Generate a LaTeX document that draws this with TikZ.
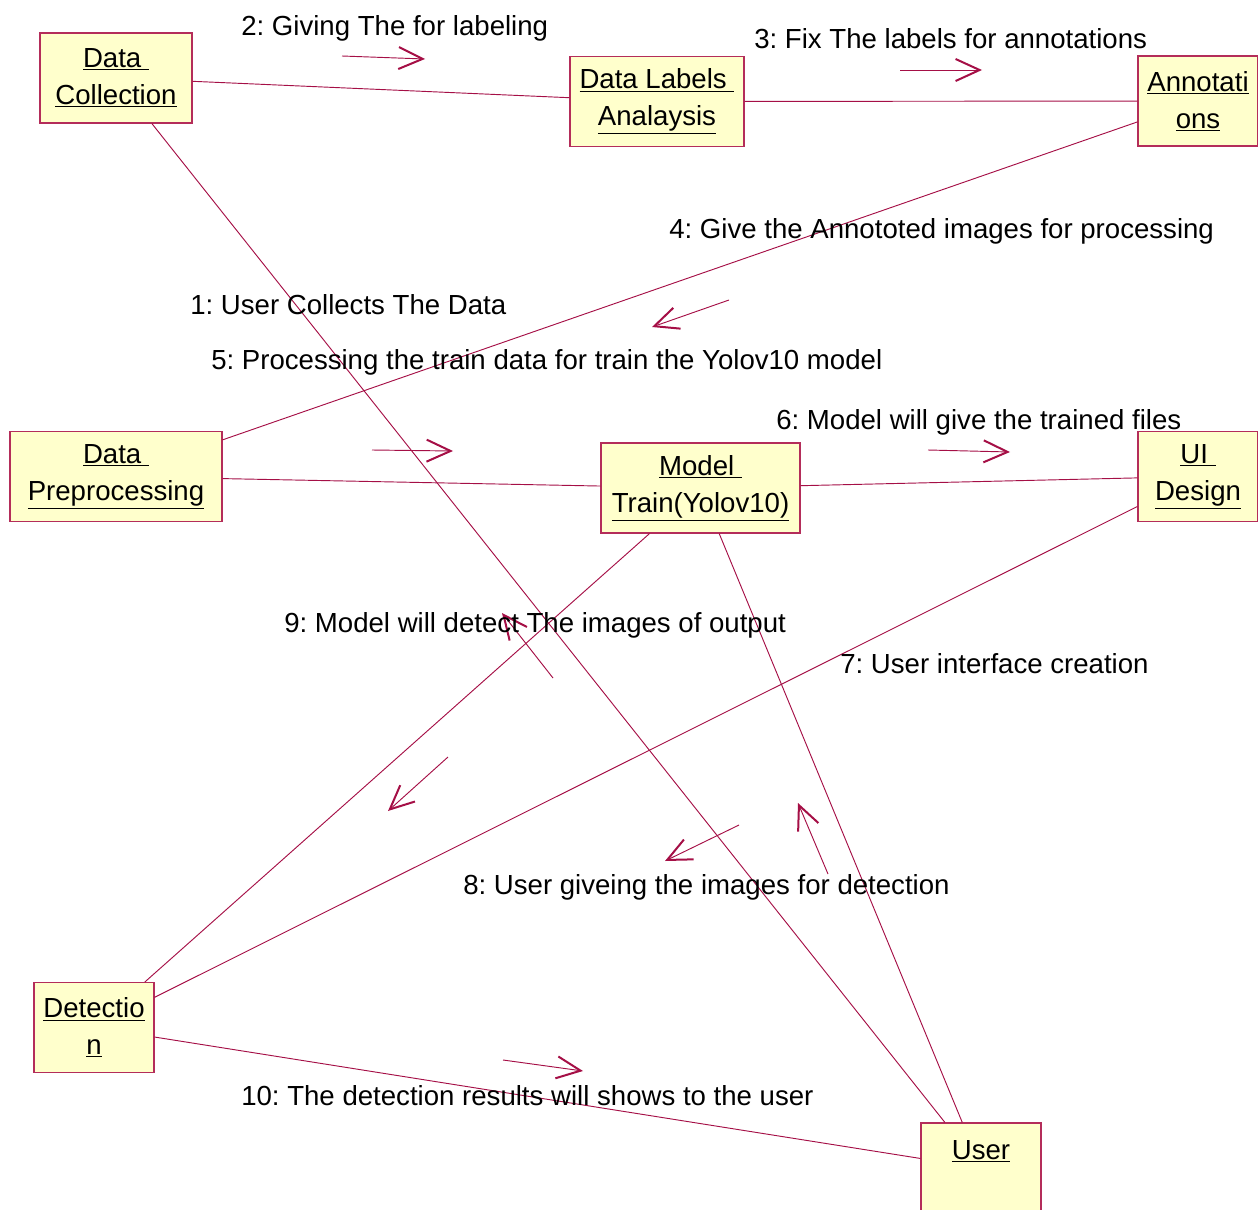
\documentclass[tikz,border=0pt]{standalone}
\usepackage{fontspec}
\setmainfont{Liberation Sans}
\usetikzlibrary{arrows.meta}
\definecolor{linkred}{RGB}{165,15,70}
\definecolor{boxfill}{RGB}{255,255,204}
\definecolor{boxedge}{RGB}{180,45,90}
\newcommand{\ul}[1]{\underline{#1}}
\frenchspacing
\begin{document}
\begin{tikzpicture}[x=0.75pt,y=-0.75pt,
  obj/.style={draw=boxedge, fill=boxfill, line width=0.8pt, minimum height=67.5pt,
    inner sep=0pt, align=center, font=\fontsize{20.7}{27.75}\selectfont},
  link/.style={draw=linkred, line width=0.7pt},
  msg/.style={draw=linkred, line width=0.7pt,
    -{Straight Barb[length=18pt, width=16.5pt, line width=1.5pt]}},
  lbl/.style={anchor=base west, inner sep=0pt, font=\fontsize{20.7}{24}\selectfont}]
\useasboundingbox (0,0) rectangle (1258,1210);

% objects
\node[obj, minimum width=114pt]   (dc)   at (116,78)    {\ul{Data\ }\\\ul{Collection}};
\node[obj, minimum width=130.5pt] (dla)  at (657,101.5) {\ul{Data Labels\ }\\\ul{Analaysis}};
\node[obj, minimum width=90pt]    (ann)  at (1198,101)  {\ul{Annotati}\\\ul{ons}};
\node[obj, minimum width=159pt]   (dp)   at (116,476.5) {\ul{Data\ }\\\ul{Preprocessing}};
\node[obj, minimum width=149.25pt](mt)   at (700.5,488) {\ul{Model\ }\\\ul{Train(Yolov10)}};
\node[obj, minimum width=90pt]    (ui)   at (1198,476.5){\ul{UI\ }\\\ul{Design}};
\node[obj, minimum width=90pt]    (det)  at (94,1027.5) {\ul{Detectio}\\\ul{n}};
\node[obj, minimum width=90pt]    (user) at (981,1168)  {\ul{User}\\\mbox{}};

% links
\draw[link] (dc) -- (dla);
\draw[link] (dla) -- (ann);
\draw[link] (ann) -- (dp);
\draw[link] (dp) -- (mt);
\draw[link] (mt) -- (ui);
\draw[link] (dc) -- (user);
\draw[link] (mt) -- (det);
\draw[link] (mt) -- (user);
\draw[link] (ui) -- (det);
\draw[link] (det) -- (user);

% message arrows
\coordinate (m1a) at (553,678);  \coordinate (m1b) at (502,613);
\coordinate (m2a) at (342,56);   \coordinate (m2b) at (425,59);
\coordinate (m3a) at (900,70);   \coordinate (m3b) at (982,70);
\coordinate (m4a) at (729,300);  \coordinate (m4b) at (652,327);
\coordinate (m5a) at (372,450);  \coordinate (m5b) at (453,451);
\coordinate (m6a) at (928,450);  \coordinate (m6b) at (1010,452);
\coordinate (m7a) at (739,825);  \coordinate (m7b) at (665,861);
\coordinate (m8a) at (828,874);  \coordinate (m8b) at (798,803);
\coordinate (m9a) at (448,757);  \coordinate (m9b) at (388,811);
\coordinate (m10a) at (503,1060); \coordinate (m10b) at (583,1071);
\foreach \m in {1,...,10} \draw[msg] (m\m a) -- (m\m b);

% message labels
\node[lbl] (t2)  at (241,36)   {2: Giving The for labeling};
\node[lbl] (t3)  at (754,48)   {3: Fix The labels for annotations};
\node[lbl] (t4)  at (669,238)  {4: Give the Annototed images for processing};
\node[lbl] (t1)  at (190,314)  {1: User Collects The Data};
\node[lbl] (t5)  at (211,369)  {5: Processing the train data for train the Yolov10 model};
\node[lbl] (t6)  at (776,429)  {6: Model will give the trained files};
\node[lbl] (t9)  at (284,632)  {9: Model will detect The images of output};
\node[lbl] (t7)  at (840,673)  {7: User interface creation};
\node[lbl] (t8)  at (463,894)  {8: User giveing the images for detection};
\node[lbl] (t10) at (241,1105) {10: The detection results will shows to the user};
\end{tikzpicture}
\end{document}
